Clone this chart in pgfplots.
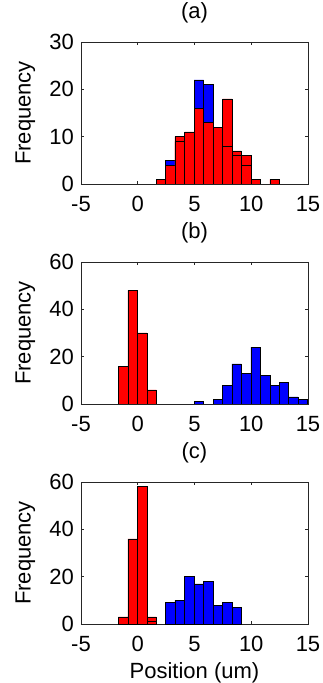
\documentclass[border=0pt]{standalone}
\usepackage{fontspec}
\setmainfont{Liberation Sans}
\usepackage{pgfplots}
\pgfplotsset{compat=1.18}
\newcommand\fs{\fontsize{22}{26}\selectfont}
\pgfplotsset{
  hist/.style={
    scale only axis, width=227pt, height=142pt,
    xmin=-5, xmax=15, ymin=0,
    xtick={-5,0,5,10,15}, xticklabels={-5,0,5,10,15},
    tick align=inside, major tick length=3pt,
    axis line style={black!85, line width=0.6pt},
    tick style={black!85, line width=0.6pt},
    tick label style={font=\fs},
    xticklabel style={anchor=north, inner sep=0pt, yshift=-12pt},
    yticklabel style={anchor=east, inner sep=0pt, xshift=-7pt},
    ylabel={Frequency},
    ylabel style={font=\fs, at={(axis description cs:-0.245,0.5)}, anchor=center, rotate=0},
    title style={font=\fs, at={(axis description cs:0.5,1)}, anchor=south, inner sep=0pt, yshift=13pt},
    clip=true,
  },
  redbar/.style={ybar, bar width=0.837, bar shift=0pt, fill=red, draw=black, line width=0.5pt},
  bluebar/.style={ybar, bar width=0.837, bar shift=0pt, fill=blue, draw=black, line width=0.5pt},
}
\begin{document}
\begin{tikzpicture}
\useasboundingbox (0,0) rectangle (323pt,683pt);
% (a)
\begin{axis}[hist, at={(81pt,499pt)}, anchor=south west, ymax=30,
  ytick={0,10,20,30}, yticklabels={0,10,20,30}, title={(a)}]
\addplot[bluebar] coordinates {(2.87,5) (5.38,22) (6.21,21)};
\addplot[redbar] coordinates {(2.03,1) (2.87,4) (3.70,10) (4.54,11) (5.38,16) (6.21,13) (7.05,12) (7.89,18) (8.72,7) (9.56,6) (10.40,1) (12.07,1)};
\addplot[redbar] coordinates {(3.70,9) (7.89,8) (8.72,6) (9.56,4)};
\end{axis}
% (b)
\begin{axis}[hist, at={(81pt,279pt)}, anchor=south west, ymax=60,
  ytick={0,20,40,60}, yticklabels={0,20,40,60}, title={(b)}]
\addplot[redbar] coordinates {(-1.29,16) (-0.45,48) (0.39,30) (1.23,6)};
\addplot[bluebar] coordinates {(5.38,1) (7.05,2) (7.88,8) (8.72,17) (9.55,13) (10.38,24) (11.22,12) (12.05,8) (12.88,9) (13.72,3) (14.55,2)};
\end{axis}
% (c)
\begin{axis}[hist, at={(81pt,59pt)}, anchor=south west, ymax=60,
  ytick={0,20,40,60}, yticklabels={0,20,40,60}, title={(c)},
  xlabel={Position (um)},
  xlabel style={font=\fs, at={(axis description cs:0.5,0)}, anchor=north, inner sep=0pt, yshift=-38pt}]
\addplot[redbar] coordinates {(-1.29,3) (-0.45,36) (0.39,58) (1.23,3)};
\addplot[redbar] coordinates {(1.23,1)};
\addplot[bluebar] coordinates {(2.85,9) (3.69,10) (4.53,20) (5.37,17) (6.21,18) (7.05,8) (7.89,9) (8.73,7)};
\end{axis}
\end{tikzpicture}
\end{document}
